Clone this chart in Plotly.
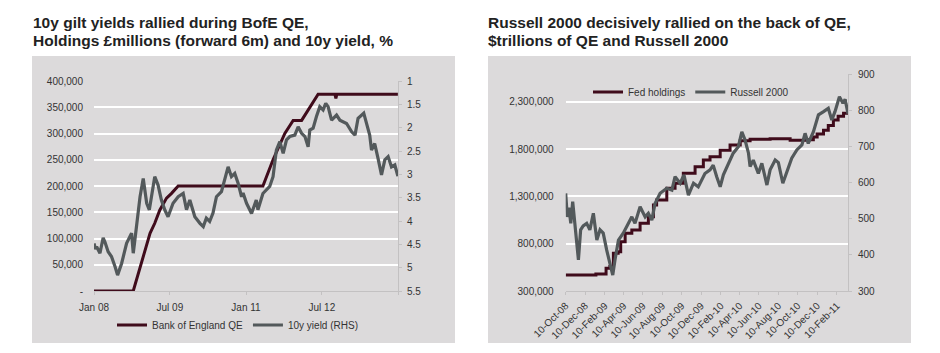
import plotly.graph_objects as go

W, H = 940, 353

# ---------------- Left chart data ----------------
uk_dates = [
    "2008-01-01", "2008-01-12", "2008-01-20", "2008-02-13", "2008-03-07", "2008-03-20", "2008-04-12", "2008-05-06",
    "2008-06-01", "2008-06-19", "2008-07-18", "2008-08-23", "2008-09-28", "2008-10-10", "2008-10-20", "2008-11-15",
    "2008-11-28", "2008-12-21", "2009-01-15", "2009-02-03", "2009-03-14", "2009-04-07", "2009-05-01", "2009-05-25",
    "2009-06-18", "2009-07-24", "2009-08-30", "2009-10-05", "2009-10-29", "2009-11-22", "2009-12-28", "2010-02-03",
    "2010-02-27", "2010-03-21", "2010-04-14", "2010-05-08", "2010-06-02", "2010-07-08", "2010-08-01", "2010-08-25",
    "2010-09-18", "2010-10-12", "2010-11-05", "2010-11-30", "2010-12-11", "2011-01-05", "2011-02-10", "2011-03-16",
    "2011-03-28", "2011-05-03", "2011-06-21", "2011-07-15", "2011-08-08", "2011-09-02", "2011-09-26", "2011-10-20",
    "2011-11-13", "2011-12-19", "2012-01-12", "2012-02-06", "2012-03-01", "2012-03-24", "2012-04-05", "2012-04-29",
    "2012-05-23", "2012-06-16", "2012-07-10", "2012-07-29", "2012-08-15", "2012-09-09", "2012-10-15", "2012-11-08",
    "2012-12-26", "2013-02-01", "2013-02-25", "2013-03-19", "2013-04-29", "2013-05-18", "2013-06-11", "2013-06-24",
    "2013-07-17", "2013-08-10", "2013-09-04", "2013-09-28", "2013-10-22", "2013-11-15", "2013-12-09", "2013-12-31",
]
uk_yield = [
    4.48, 4.60, 4.55, 4.69, 4.36, 4.45, 4.66, 4.76,
    4.98, 5.16, 4.91, 4.48, 4.26, 4.69, 4.45, 3.76,
    3.48, 3.09, 3.62, 3.76, 3.05, 3.23, 3.55, 3.76,
    3.91, 3.62, 3.48, 3.41, 3.76, 3.55, 3.91, 4.05,
    4.12, 3.94, 4.01, 3.83, 3.48, 3.37, 3.12, 2.84,
    3.05, 2.98, 3.19, 3.48, 3.40, 3.62, 3.84, 3.55,
    3.76, 3.41, 3.26, 3.05, 2.48, 2.30, 2.55, 2.26,
    2.19, 2.16, 1.98, 2.12, 2.19, 2.41, 2.05, 2.01,
    1.76, 1.55, 1.62, 1.48, 1.55, 1.84, 1.73, 1.84,
    1.91, 2.09, 2.16, 1.80, 1.69, 1.91, 2.16, 2.48,
    2.34, 2.66, 3.01, 2.69, 2.62, 2.84, 2.80, 3.04,
]

boe_dates = [
    "2008-01-01", "2008-10-10", "2009-02-08", "2009-03-14", "2009-04-19", "2009-06-07",
    "2009-07-13", "2009-08-30", "2011-05-03", "2011-07-15", "2011-10-08", "2011-12-07",
    "2012-02-06", "2012-06-04", "2012-10-03", "2012-10-10", "2012-10-17", "2013-12-31",
]
boe_qe = [
    0, 0, 110000, 129000, 154000, 177000,
    186000, 200000, 200000, 250000, 300000, 325000,
    325000, 375000, 375000, 367000, 375000, 375000,
]

left_xtick_vals = ["2008-01-01", "2009-07-01", "2011-01-01", "2012-07-01", "2014-01-01"]
left_xtick_text = ["Jan 08", "Jul 09", "Jan 11", "Jul 12", ""]
left_y_vals = [0, 50000, 100000, 150000, 200000, 250000, 300000, 350000, 400000]
left_y_text = ["-", "50,000", "100,000", "150,000", "200,000", "250,000", "300,000", "350,000", "400,000"]
left_y2_vals = [1, 1.5, 2, 2.5, 3, 3.5, 4, 4.5, 5, 5.5]
left_y2_text = ["1", "1.5", "2", "2.5", "3", "3.5", "4", "4.5", "5", "5.5"]

# ---------------- Right chart data ----------------
r2k_dates = [
    "2008-10-10", "2008-10-15", "2008-10-20", "2008-10-26", "2008-11-01", "2008-11-08", "2008-11-19", "2008-11-26",
    "2008-12-04", "2008-12-15", "2008-12-25", "2009-01-05", "2009-01-16", "2009-01-26", "2009-02-05", "2009-02-16",
    "2009-02-26", "2009-03-07", "2009-03-14", "2009-03-25", "2009-04-09", "2009-04-25", "2009-05-06", "2009-05-16",
    "2009-06-01", "2009-06-17", "2009-06-27", "2009-07-08", "2009-07-18", "2009-08-03", "2009-08-24", "2009-09-09",
    "2009-09-19", "2009-10-05", "2009-10-17", "2009-10-31", "2009-11-16", "2009-12-01", "2009-12-17", "2009-12-22",
    "2010-01-07", "2010-01-17", "2010-01-28", "2010-02-08", "2010-02-18", "2010-03-06", "2010-03-21", "2010-04-06",
    "2010-04-17", "2010-04-27", "2010-05-08", "2010-05-13", "2010-05-23", "2010-06-08", "2010-06-19", "2010-07-05",
    "2010-07-15", "2010-07-31", "2010-08-10", "2010-08-24", "2010-09-05", "2010-09-21", "2010-10-07", "2010-10-23",
    "2010-11-02", "2010-11-12", "2010-11-28", "2010-12-14", "2010-12-30", "2011-01-14", "2011-01-25", "2011-02-04",
    "2011-02-18", "2011-03-01", "2011-03-08", "2011-03-17",
]
r2k_vals = [
    570, 505, 530, 487, 547, 478, 386, 469,
    480, 487, 469, 515, 441, 469, 460, 413,
    377, 344, 386, 441, 460, 487, 505, 487,
    533, 505, 515, 496, 542, 570, 584, 579,
    616, 598, 621, 565, 598, 588, 616, 625,
    635, 648, 616, 588, 621, 653, 681, 699,
    740, 718, 681, 644, 662, 625, 653, 593,
    635, 662, 655, 598, 630, 667, 690, 704,
    736, 708, 740, 787, 796, 805, 773, 796,
    837, 819, 830, 790,
]

fed_dates = [
    "2008-10-10", "2009-01-10", "2009-01-13", "2009-02-11", "2009-02-14", "2009-02-26", "2009-03-09", "2009-03-24",
    "2009-04-01", "2009-04-15", "2009-05-06", "2009-06-01", "2009-06-27", "2009-07-13", "2009-07-23", "2009-08-24",
    "2009-09-19", "2009-10-15", "2009-11-21", "2009-12-17", "2010-01-07", "2010-02-08", "2010-03-11", "2010-04-12",
    "2010-05-13", "2010-07-15", "2010-09-16", "2010-11-07", "2010-11-28", "2010-12-10", "2010-12-30", "2011-01-14",
    "2011-01-30", "2011-02-14", "2011-03-03", "2011-03-17",
]
fed_vals = [
    469000, 469000, 480000, 480000, 540000, 560000, 700000, 716000,
    820000, 910000, 945000, 1016000, 1086000, 1210000, 1263000, 1387000,
    1440000, 1545000, 1615000, 1686000, 1720000, 1790000, 1845000, 1890000,
    1905000, 1910000, 1895000, 1900000, 1930000, 1960000, 2000000, 2050000,
    2110000, 2150000, 2180000, 2215000,
]

right_xtick_vals = [
    "2008-10-10", "2008-12-10", "2009-02-10", "2009-04-10", "2009-06-10", "2009-08-10", "2009-10-10", "2009-12-10",
    "2010-02-10", "2010-04-10", "2010-06-10", "2010-08-10", "2010-10-10", "2010-12-10", "2011-02-10",
]
right_xtick_text = [
    "10-Oct-08", "10-Dec-08", "10-Feb-09", "10-Apr-09", "10-Jun-09", "10-Aug-09", "10-Oct-09", "10-Dec-09",
    "10-Feb-10", "10-Apr-10", "10-Jun-10", "10-Aug-10", "10-Oct-10", "10-Dec-10", "10-Feb-11",
]
right_y_vals = [300000, 800000, 1300000, 1800000, 2300000]
right_y_text = ["300,000", "800,000", "1,300,000", "1,800,000", "2,300,000"]

# ---------------- Styling ----------------
MAROON = "#3f0b1b"
GREY = "#53595b"
BOX = "#dcdadb"
AXIS = "#c3c1c2"
FONT = "Liberation Sans, Arial, Helvetica, sans-serif"
TICKFONT = dict(family=FONT, size=10, color="#333333")


def px_x(v):
    return v / W


def px_y(v):
    return 1 - v / H


fig = go.Figure()

fig.add_trace(go.Scatter(x=boe_dates, y=boe_qe, mode="lines", name="Bank of England QE",
                         line=dict(color=MAROON, width=3), xaxis="x", yaxis="y", legend="legend"))
fig.add_trace(go.Scatter(x=uk_dates, y=uk_yield, mode="lines", name="10y yield (RHS)",
                         line=dict(color=GREY, width=3.2), xaxis="x", yaxis="y2", legend="legend"))

fig.add_trace(go.Scatter(x=fed_dates, y=fed_vals, mode="lines", name="Fed holdings",
                         line=dict(color=MAROON, width=3, shape="hv"), xaxis="x2", yaxis="y3", legend="legend2"))
fig.add_trace(go.Scatter(x=r2k_dates, y=r2k_vals, mode="lines", name="Russell 2000",
                         line=dict(color=GREY, width=3.2), xaxis="x2", yaxis="y4", legend="legend2"))

left_dom_x = [px_x(94), px_x(398)]
right_dom_x = [px_x(565.7), px_x(848)]
left_dom_y = [px_y(291), px_y(81)]
right_dom_y = [px_y(291), px_y(74)]

common_x = dict(showgrid=False, zeroline=False, showline=True, linecolor=AXIS, linewidth=1,
                ticks="outside", ticklen=3, tickcolor=AXIS, tickfont=TICKFONT, automargin=False)

fig.update_layout(
    template="none",
    width=W, height=H,
    margin=dict(l=0, r=0, t=0, b=0, autoexpand=False),
    paper_bgcolor="white",
    plot_bgcolor="rgba(0,0,0,0)",
    font=dict(family=FONT, size=10, color="#333333"),
    xaxis=dict(domain=left_dom_x, anchor="y", type="date",
               range=["2008-01-01", "2014-01-01"],
               tickvals=left_xtick_vals, ticktext=left_xtick_text,
               ticklabelstandoff=4, **common_x),
    yaxis=dict(domain=left_dom_y, anchor="x", range=[0, 400000],
               tickvals=left_y_vals, ticktext=left_y_text,
               showgrid=True, gridcolor="white", gridwidth=1.5, zeroline=False,
               showline=False, ticks="", ticklabelstandoff=10, tickfont=TICKFONT, automargin=False),
    yaxis2=dict(overlaying="y", side="right", anchor="x", range=[5.5, 1],
                tickvals=left_y2_vals, ticktext=left_y2_text,
                showgrid=False, zeroline=False, showline=True, linecolor=AXIS, linewidth=1,
                ticks="outside", ticklen=3, tickcolor=AXIS, ticklabelstandoff=3, tickfont=TICKFONT,
                automargin=False),
    xaxis2=dict(domain=right_dom_x, anchor="y3", type="date",
                range=["2008-10-10", "2011-03-17"],
                tickvals=right_xtick_vals, ticktext=right_xtick_text, tickangle=-45,
                ticklabelstandoff=1, **common_x),
    yaxis3=dict(domain=right_dom_y, anchor="x2", range=[300000, 2596000],
                tickvals=right_y_vals, ticktext=right_y_text,
                showgrid=True, gridcolor="white", gridwidth=1.5, zeroline=False,
                showline=False, ticks="", ticklabelstandoff=11, tickfont=TICKFONT, automargin=False),
    yaxis4=dict(overlaying="y3", side="right", anchor="x2", range=[300, 900],
                tickvals=[300, 400, 500, 600, 700, 800, 900],
                showgrid=False, zeroline=False, showline=True, linecolor=AXIS, linewidth=1,
                ticks="outside", ticklen=3, tickcolor=AXIS, ticklabelstandoff=4, tickfont=TICKFONT,
                automargin=False),
    legend=dict(orientation="h", x=px_x(112), y=px_y(325), xanchor="left", yanchor="middle",
                bgcolor="rgba(0,0,0,0)", font=dict(family=FONT, size=10, color="#333333"),
                itemwidth=30, tracegroupgap=0),
    legend2=dict(orientation="h", x=px_x(588), y=px_y(92), xanchor="left", yanchor="middle",
                 bgcolor="rgba(0,0,0,0)", font=dict(family=FONT, size=10, color="#333333"),
                 itemwidth=30, tracegroupgap=0),
    showlegend=True,
)

# Panel backgrounds
fig.add_shape(type="rect", xref="paper", yref="paper", layer="below",
              x0=px_x(32), x1=px_x(455), y0=px_y(343), y1=px_y(56),
              fillcolor=BOX, line=dict(width=0))
fig.add_shape(type="rect", xref="paper", yref="paper", layer="below",
              x0=px_x(488), x1=px_x(911), y0=px_y(343), y1=px_y(56),
              fillcolor=BOX, line=dict(width=0))

# Titles
titles = [
    ("10y gilt yields rallied during BofE QE,", 32, 12.5),
    ("Holdings £millions (forward 6m) and 10y yield, %", 32, 30.5),
    ("Russell 2000 decisively rallied on the back of QE,", 487, 12.5),
    ("$trillions of QE and Russell 2000", 487, 30.5),
]
for txt, xx, yy in titles:
    fig.add_annotation(text="<b>" + txt + "</b>", xref="paper", yref="paper",
                       x=px_x(xx), y=px_y(yy), xanchor="left", yanchor="top", borderpad=0,
                       showarrow=False, font=dict(family=FONT, size=15.5, color="#222222"))

fig.write_html("out.html")
